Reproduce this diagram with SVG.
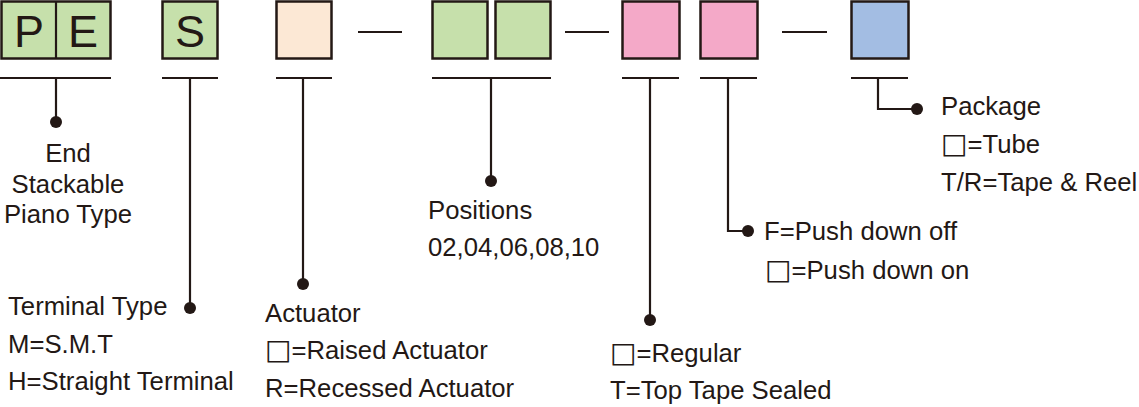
<svg xmlns="http://www.w3.org/2000/svg" width="1139" height="407" viewBox="0 0 1139 407">
<style>
  .box{stroke:#231815;stroke-width:2.5}
  .g{fill:#c6e0ab}
  .b{fill:#fce8d5}
  .p{fill:#f4a9c8}
  .bl{fill:#a3bde3}
  .ln{stroke:#231815;stroke-width:2.2;fill:none}
  .dot{fill:#231815}
  text{font-family:"Liberation Sans",Arial,sans-serif;font-size:25.7px;fill:#231815}
  .big{font-size:45px}
  .sq{font-family:"DejaVu Sans",sans-serif;font-size:28px}
</style>
<rect width="1139" height="407" fill="#ffffff"/>
<g id="node-pe">
  <rect class="box g" x="1.5" y="1.5" width="109" height="57"/>
  <line class="ln" x1="56" y1="1.5" x2="56" y2="58.5"/>
  <text class="big" x="29" y="47" text-anchor="middle">P</text>
  <text class="big" x="83" y="47" text-anchor="middle">E</text>
</g>
<g id="node-s">
  <rect class="box g" x="162.5" y="1.5" width="55" height="57"/>
  <text class="big" x="190" y="47" text-anchor="middle">S</text>
</g>
<g id="node-actuator">
  <rect class="box b" x="276.5" y="1.5" width="55" height="57"/>
</g>
<g id="node-positions">
  <rect class="box g" x="432.5" y="1.5" width="55" height="57"/>
  <rect class="box g" x="495.5" y="1.5" width="55" height="57"/>
</g>
<g id="node-tape">
  <rect class="box p" x="622.5" y="1.5" width="57" height="57"/>
</g>
<g id="node-push">
  <rect class="box p" x="700.5" y="1.5" width="57" height="57"/>
</g>
<g id="node-package">
  <rect class="box bl" x="851.5" y="1.5" width="57" height="57"/>
</g>
<g id="connectors">
  <line class="ln" x1="358" y1="32" x2="402" y2="32"/>
  <line class="ln" x1="565" y1="32" x2="609" y2="32"/>
  <line class="ln" x1="782" y1="32" x2="827" y2="32"/>
  <line class="ln" x1="0" y1="78" x2="111" y2="78"/>
  <line class="ln" x1="162" y1="78" x2="218" y2="78"/>
  <line class="ln" x1="276" y1="78" x2="332" y2="78"/>
  <line class="ln" x1="432" y1="78" x2="551" y2="78"/>
  <line class="ln" x1="622" y1="78" x2="679" y2="78"/>
  <line class="ln" x1="700" y1="78" x2="757" y2="78"/>
  <line class="ln" x1="851" y1="78" x2="908" y2="78"/>
  <line class="ln" x1="56" y1="78" x2="56" y2="122"/>
  <circle class="dot" cx="56" cy="122" r="6"/>
  <line class="ln" x1="190" y1="78" x2="190" y2="308"/>
  <circle class="dot" cx="190" cy="308" r="6"/>
  <line class="ln" x1="303" y1="78" x2="303" y2="284"/>
  <circle class="dot" cx="303" cy="284" r="6"/>
  <line class="ln" x1="491" y1="78" x2="491" y2="181"/>
  <circle class="dot" cx="491" cy="181" r="6"/>
  <line class="ln" x1="650" y1="78" x2="650" y2="320"/>
  <circle class="dot" cx="650" cy="320" r="6"/>
  <polyline class="ln" points="728,78 728,231 748,231"/>
  <circle class="dot" cx="748" cy="231" r="6"/>
  <polyline class="ln" points="878,78 878,109 917,109"/>
  <circle class="dot" cx="917" cy="109" r="6"/>
</g>
<g id="label-end">
  <text x="68" y="162" text-anchor="middle">End</text>
  <text x="68" y="193" text-anchor="middle">Stackable</text>
  <text x="68" y="223" text-anchor="middle">Piano Type</text>
</g>
<g id="label-terminal">
  <text x="8" y="315">Terminal Type</text>
  <text x="8" y="353">M=S.M.T</text>
  <text x="8" y="390">H=Straight Terminal</text>
</g>
<g id="label-actuator">
  <text x="265" y="322">Actuator</text>
  <text x="265" y="359"><tspan class="sq">□</tspan>=Raised Actuator</text>
  <text x="265" y="397">R=Recessed Actuator</text>
</g>
<g id="label-positions">
  <text x="428" y="219">Positions</text>
  <text x="428" y="256">02,04,06,08,10</text>
</g>
<g id="label-tape">
  <text x="610" y="362"><tspan class="sq">□</tspan>=Regular</text>
  <text x="610" y="399">T=Top Tape Sealed</text>
</g>
<g id="label-push">
  <text x="764" y="240">F=Push down off</text>
  <text x="765" y="279"><tspan class="sq">□</tspan>=Push down on</text>
</g>
<g id="label-package">
  <text x="941" y="115">Package</text>
  <text x="941" y="153"><tspan class="sq">□</tspan>=Tube</text>
  <text x="941" y="191">T/R=Tape &amp; Reel</text>
</g>
</svg>
